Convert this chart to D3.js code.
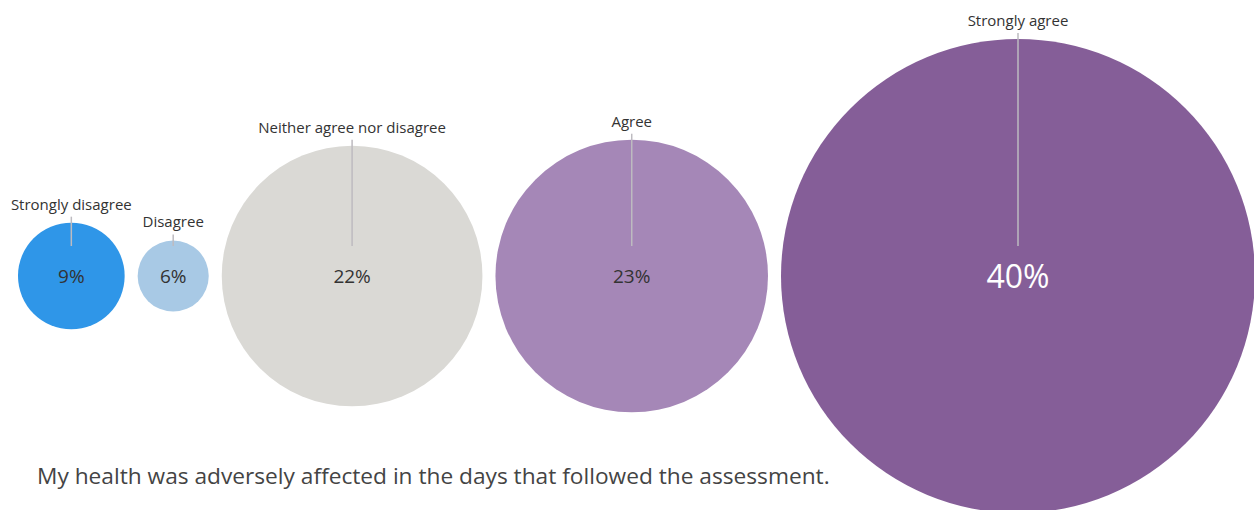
<!DOCTYPE html>
<html>
<head>
<meta charset="utf-8">
<script src="https://cdn.jsdelivr.net/npm/d3@7"></script>
<style>
	body { margin: 0; background: #fff; }
	svg { display: block; font-family: "Open Sans", sans-serif; }
</style>
</head>
<body>
<div id="chart"></div>
<script>
var categories = ["Strongly disagree", "Disagree", "Neither agree nor disagree", "Agree", "Strongly agree"],
	values = [9, 6, 22, 23, 40],
	colors = ["#2f96e8", "#a8c9e5", "#dad9d5", "#a587b7", "#855e98"],
	title = "My health was adversely affected in the days that followed the assessment.";

var width = 1254,
	height = 510,
	startX = 18,
	gap = 13,
	centerY = 276;

var svgContainer = d3.select("#chart")
	.append("svg")
	.attr("width", width)
	.attr("height", height);

// radius grows linearly with the value in the original
var rScale = d3.scaleLinear().domain([0, 40]).range([0, 237]);

var bubbles = [];
var x = startX;
values.forEach(function(v, i) {
	var r = rScale(v);
	bubbles.push({label: categories[i], value: v, color: colors[i], r: r, cx: x + r});
	x += 2 * r + gap;
});

var groups = svgContainer.selectAll("g.bubble")
	.data(bubbles)
	.enter()
	.append("g")
	.attr("class", "bubble");

groups.append("circle")
	.attr("cx", d => d.cx)
	.attr("cy", centerY)
	.attr("r", d => d.r)
	.style("fill", d => d.color);

groups.append("line")
	.attr("x1", d => d.cx)
	.attr("x2", d => d.cx)
	.attr("y1", d => centerY - d.r - 6)
	.attr("y2", centerY - 30)
	.attr("stroke", "#bdbbc0")
	.attr("stroke-width", 1.5);

groups.append("text")
	.attr("x", d => d.cx)
	.attr("y", d => centerY - d.r - 13)
	.attr("text-anchor", "middle")
	.style("font-size", "15px")
	.style("fill", "#333")
	.text(d => d.label);

groups.append("text")
	.attr("x", d => d.cx)
	.attr("y", d => d.value >= 40 ? centerY + 12 : centerY + 7)
	.attr("text-anchor", "middle")
	.style("font-size", d => d.value >= 40 ? "32px" : "19px")
	.style("fill", d => d.value >= 40 ? "#fff" : "#333")
	.text(d => d.value + "%");

svgContainer.append("text")
	.attr("x", 37)
	.attr("y", 484)
	.style("font-size", "22.7px")
	.style("fill", "#444")
	.text(title);
</script>
</body>
</html>
